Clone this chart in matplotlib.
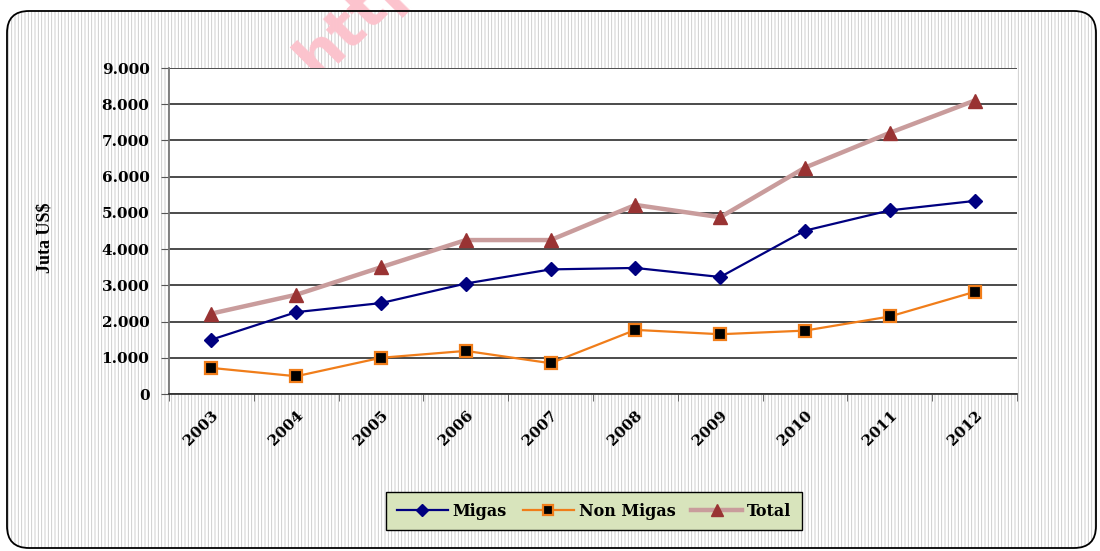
import numpy as np
import matplotlib
matplotlib.use('Agg')
import matplotlib.pyplot as plt
from matplotlib.patches import FancyBboxPatch

years = ['2003', '2004', '2005', '2006', '2007', '2008', '2009', '2010', '2011', '2012']
migas = [1500, 2260, 2510, 3050, 3440, 3480, 3230, 4510, 5070, 5330]
non_migas = [720, 490, 1000, 1190, 850, 1770, 1650, 1750, 2140, 2820]
total = [2220, 2740, 3500, 4250, 4250, 5220, 4880, 6250, 7210, 8100]
y_ticks = [0, 1000, 2000, 3000, 4000, 5000, 6000, 7000, 8000, 9000]
y_tick_labels = ['0', '1.000', '2.000', '3.000', '4.000', '5.000', '6.000', '7.000', '8.000', '9.000']

plt.rcParams['hatch.linewidth'] = 0.6

fig = plt.figure(figsize=(11, 5.51), dpi=100)

# striped background with rounded frame (pixel coordinates)
bg = fig.add_axes([0, 0, 1, 1], zorder=0)
bg.set_xlim(0, 1100)
bg.set_ylim(551, 0)
bg.axis('off')
bg.add_patch(FancyBboxPatch((7, 11), 1089, 537, boxstyle='round,pad=0,rounding_size=22',
                            facecolor='white', edgecolor='#c6c6c6', hatch='|||||', linewidth=0, zorder=1))
# watermark, partly cut by the top edge like in the source image
bg.text(318, 80, 'http://', fontsize=44, fontweight='bold', color='#fcc3cd',
        rotation=45, rotation_mode='anchor', ha='left', va='baseline',
        fontfamily='DejaVu Sans', zorder=2)
bg.add_patch(FancyBboxPatch((7, 11), 1089, 537, boxstyle='round,pad=0,rounding_size=22',
                            facecolor='none', edgecolor='black', linewidth=1.3, zorder=3))

ax = fig.add_axes([169/1100, 1-394/551, 848/1100, 326/551], zorder=1)
ax.set_facecolor('white')
x = np.arange(len(years))

ax.plot(x, migas, color='#000080', lw=1.6, marker='D', ms=7.5, mfc='#000080', mec='#000080', label='Migas', zorder=4)
ax.plot(x, non_migas, color='#f07d1a', lw=1.6, marker='s', ms=8.5, mfc='black', mec='#f07d1a', mew=1.6, label='Non Migas', zorder=4)
ax.plot(x, total, color='#c99c9c', lw=3.2, marker='^', ms=10, mfc='#993333', mec='#993333', label='Total', zorder=5)

ax.set_xlim(-0.5, len(years) - 0.5)
ax.set_ylim(0, 9000)
ax.set_yticks(y_ticks)
ax.set_yticklabels(y_tick_labels)
ax.yaxis.grid(True, color='#1a1a1a', lw=1.1)
ax.set_axisbelow(True)

ax.set_xticks(x)
ax.set_xticklabels(years, rotation=45, ha='right', va='top', rotation_mode='anchor')
ax.set_xticks(np.arange(len(years) + 1) - 0.5, minor=True)
ax.tick_params(axis='x', which='major', length=0, pad=10)
ax.tick_params(axis='x', which='minor', length=5, color='#555555')
ax.tick_params(axis='y', length=5.5, color='#555555', pad=8.5)

for lbl in ax.get_yticklabels() + ax.get_xticklabels():
    lbl.set_fontfamily('DejaVu Serif')
    lbl.set_fontweight('bold')
    lbl.set_fontsize(11)

for s in ['top', 'right']:
    ax.spines[s].set_visible(False)
ax.spines['left'].set_color('#777777')
ax.spines['left'].set_linewidth(1.3)
ax.spines['bottom'].set_color('#333333')
ax.spines['bottom'].set_linewidth(1.3)

ax.set_ylabel('Juta US$', fontfamily='Liberation Serif', fontweight='bold', fontsize=13)
ax.yaxis.set_label_coords(-0.136, 0.48)

leg = fig.legend(loc='center', bbox_to_anchor=(594/1100, 1-511/551), ncol=3, frameon=True,
                 fancybox=False, facecolor='#d8e4bc', edgecolor='black', framealpha=1,
                 prop={'family': 'DejaVu Serif', 'weight': 'bold', 'size': 11.5},
                 handlelength=3.2, columnspacing=1.0, handletextpad=0.3, borderpad=0.65,
                 markerscale=0.85)
leg.get_frame().set_linewidth(1.0)
leg.set_zorder(6)

fig.savefig('out.png', dpi=100)
